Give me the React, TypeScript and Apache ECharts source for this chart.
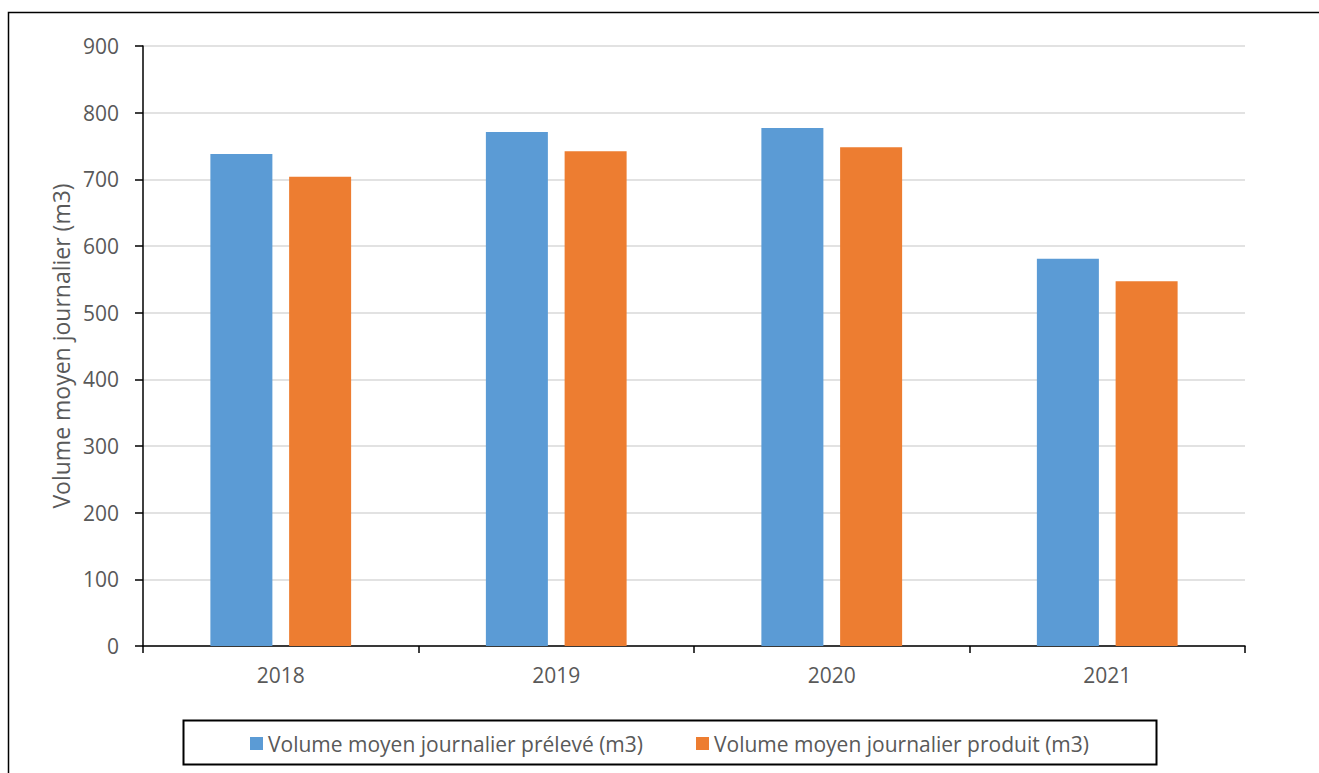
import React, { useEffect, useRef } from "react";
import * as echarts from "echarts";

const years = ["2018", "2019", "2020", "2021"];
const prelevé = [738, 771, 777, 581];
const produit = [704, 742, 748, 547];
const seriesNames = [
  "Volume moyen journalier prélevé (m3)",
  "Volume moyen journalier produit (m3)",
];
const yAxisTitle = "Volume moyen journalier (m3)";

const FONT = "'Open Sans', 'Noto Sans', sans-serif";
const TEXT = "#595959";

export default function App() {
  const ref = useRef<HTMLDivElement>(null);

  useEffect(() => {
    if (!ref.current) return;
    const chart = echarts.init(ref.current, undefined, { renderer: "svg" });
    chart.setOption({
      animation: false,
      backgroundColor: "#ffffff",
      textStyle: { fontFamily: FONT },
      grid: { left: 143, right: 74, top: 46, bottom: 127 },
      graphic: [
        {
          type: "rect",
          shape: { x: 8.5, y: 12.5, width: 1400, height: 900 },
          style: { fill: "none", stroke: "#000000", lineWidth: 1.5 },
          silent: true,
        },
        {
          type: "rect",
          shape: { x: 183.5, y: 720.5, width: 973, height: 44 },
          style: { fill: "none", stroke: "#000000", lineWidth: 2 },
          silent: true,
        },
      ],
      legend: {
        left: 245,
        top: 728,
        itemWidth: 13,
        itemHeight: 13,
        itemGap: 53,
        icon: "rect",
        textStyle: { fontFamily: FONT, fontSize: 21, color: TEXT },
        data: seriesNames,
      },
      xAxis: {
        type: "category",
        data: years,
        boundaryGap: true,
        axisLine: { lineStyle: { color: "#000000", width: 1.5 } },
        axisTick: { show: true, length: 7, lineStyle: { color: "#000000", width: 1.5 } },
        axisLabel: { fontFamily: FONT, fontSize: 21, color: TEXT, margin: 18 },
      },
      yAxis: {
        type: "value",
        min: 0,
        max: 900,
        interval: 100,
        name: yAxisTitle,
        nameLocation: "middle",
        nameGap: 71,
        nameRotate: 90,
        nameTextStyle: { fontFamily: FONT, fontSize: 23, color: TEXT },
        axisLine: { show: true, lineStyle: { color: "#000000", width: 1.5 } },
        axisTick: { show: true, length: 8, lineStyle: { color: "#000000", width: 1.5 } },
        axisLabel: { fontFamily: FONT, fontSize: 21, color: TEXT, margin: 24 },
        splitLine: { lineStyle: { color: "#d9d9d9", width: 1.5 } },
      },
      series: [
        {
          name: seriesNames[0],
          type: "bar",
          data: prelevé,
          barWidth: 62,
          barGap: "27%",
          itemStyle: { color: "#5B9BD5" },
        },
        {
          name: seriesNames[1],
          type: "bar",
          data: produit,
          barWidth: 62,
          itemStyle: { color: "#ED7D31" },
        },
      ],
    });
    return () => chart.dispose();
  }, []);

  return (
    <div
      ref={ref}
      style={{ position: "fixed", left: 0, top: 0, width: 1319, height: 773 }}
    />
  );
}
